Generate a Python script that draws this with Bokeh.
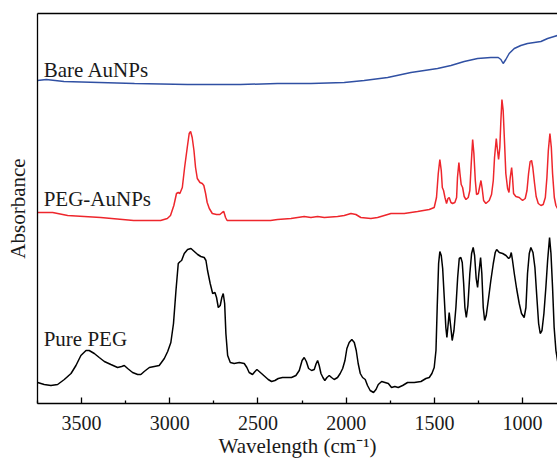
from bokeh.plotting import figure
from bokeh.models import Range1d, FixedTicker, LinearAxis, Label
from bokeh.embed import file_html
from bokeh.resources import INLINE

# ---- data (wavenumber in cm^-1, absorbance in arbitrary units, traces offset) ----
wn_pure = [3749, 3712, 3674, 3636, 3598, 3560, 3532, 3504, 3475, 3457, 3428, 3400, 3371, 3334,
           3296, 3273, 3258, 3239, 3211, 3182, 3164, 3145, 3116, 3088, 3060, 3031, 3012, 2994,
           2979, 2965, 2952, 2941, 2933, 2918, 2899, 2880, 2861, 2842, 2824, 2805, 2795, 2786,
           2771, 2757, 2744, 2735, 2725, 2714, 2705, 2697, 2689, 2682, 2672, 2657, 2635, 2606,
           2578, 2563, 2550, 2531, 2517, 2506, 2493, 2480, 2461, 2442, 2423, 2404, 2385, 2361,
           2336, 2310, 2285, 2266, 2250, 2238, 2226, 2213, 2196, 2181, 2170, 2162, 2153, 2143,
           2132, 2121, 2109, 2096, 2083, 2068, 2049, 2034, 2020, 2007, 1996, 1983, 1968, 1954,
           1943, 1932, 1920, 1907, 1892, 1879, 1864, 1845, 1831, 1818, 1799, 1780, 1761, 1743,
           1724, 1705, 1680, 1652, 1614, 1576, 1548, 1529, 1514, 1501, 1491, 1484, 1476, 1469,
           1461, 1453, 1444, 1435, 1429, 1421, 1416, 1408, 1399, 1389, 1378, 1368, 1359, 1350,
           1342, 1334, 1327, 1319, 1310, 1299, 1289, 1280, 1272, 1263, 1255, 1248, 1238, 1231,
           1223, 1215, 1206, 1193, 1180, 1166, 1155, 1147, 1132, 1113, 1094, 1079, 1072, 1064,
           1057, 1047, 1034, 1019, 1006, 991, 981, 972, 962, 953, 941, 930, 919, 909, 900, 890,
           879, 868, 858, 847, 839, 830, 821, 811, 802, 790]
abs_pure = [0.22, 0.20, 0.19, 0.20, 0.25, 0.31, 0.39, 0.49, 0.54, 0.54, 0.51, 0.47, 0.43, 0.40,
            0.37, 0.38, 0.39, 0.36, 0.32, 0.30, 0.30, 0.33, 0.37, 0.38, 0.39, 0.46, 0.53, 0.62,
            0.81, 1.14, 1.41, 1.43, 1.44, 1.51, 1.55, 1.56, 1.53, 1.50, 1.48, 1.47, 1.44, 1.34,
            1.21, 1.11, 1.12, 1.07, 0.97, 0.99, 1.07, 1.11, 1.01, 0.71, 0.49, 0.42, 0.41, 0.42,
            0.41, 0.37, 0.32, 0.30, 0.33, 0.35, 0.33, 0.31, 0.28, 0.25, 0.23, 0.24, 0.26, 0.27,
            0.27, 0.27, 0.29, 0.34, 0.44, 0.47, 0.43, 0.36, 0.34, 0.35, 0.41, 0.44, 0.39, 0.31,
            0.27, 0.24, 0.27, 0.29, 0.27, 0.25, 0.27, 0.31, 0.36, 0.44, 0.56, 0.62, 0.65, 0.62,
            0.54, 0.41, 0.31, 0.27, 0.25, 0.19, 0.14, 0.12, 0.15, 0.20, 0.23, 0.22, 0.21, 0.17,
            0.18, 0.17, 0.19, 0.22, 0.22, 0.23, 0.26, 0.27, 0.31, 0.37, 0.54, 0.97, 1.41, 1.53,
            1.49, 1.36, 1.07, 0.77, 0.67, 0.82, 0.92, 0.79, 0.64, 0.74, 0.97, 1.27, 1.46, 1.47,
            1.42, 1.21, 0.97, 0.87, 0.99, 1.31, 1.51, 1.57, 1.49, 1.26, 1.17, 1.31, 1.47, 1.31,
            0.97, 0.84, 0.89, 1.06, 1.24, 1.41, 1.52, 1.55, 1.52, 1.51, 1.49, 1.46, 1.47, 1.52,
            1.44, 1.31, 1.16, 1.01, 0.91, 0.87, 0.97, 1.31, 1.51, 1.57, 1.52, 1.37, 1.07, 0.81,
            0.71, 0.74, 0.91, 1.17, 1.44, 1.67, 1.51, 1.17, 0.77, 0.54, 0.44, 0.35]

wn_peg_au = [3750, 3664, 3579, 3392, 3205, 3052, 3014, 2996, 2977, 2962, 2952, 2943, 2929, 2916,
             2901, 2890, 2882, 2873, 2863, 2854, 2844, 2829, 2816, 2807, 2797, 2788, 2776, 2759,
             2735, 2716, 2703, 2694, 2684, 2675, 2618, 2523, 2429, 2389, 2313, 2238, 2200, 2162,
             2124, 2049, 2011, 1973, 1945, 1917, 1860, 1822, 1784, 1746, 1671, 1595, 1529, 1501,
             1488, 1478, 1469, 1461, 1455, 1448, 1440, 1431, 1423, 1416, 1406, 1397, 1384, 1374,
             1369, 1361, 1355, 1348, 1340, 1331, 1321, 1308, 1299, 1291, 1283, 1276, 1268, 1261,
             1251, 1244, 1236, 1229, 1221, 1208, 1189, 1176, 1166, 1159, 1149, 1142, 1136, 1129,
             1123, 1117, 1110, 1102, 1095, 1085, 1077, 1070, 1062, 1057, 1051, 1038, 1019, 1000,
             985, 975, 966, 957, 949, 942, 932, 923, 911, 896, 883, 871, 862, 854, 845, 837, 830,
             820, 811, 802, 790]
abs_peg_au = [1.92, 1.92, 1.89, 1.87, 1.84, 1.84, 1.86, 1.89, 1.99, 2.11, 2.12, 2.11, 2.17, 2.37,
              2.57, 2.71, 2.73, 2.67, 2.54, 2.37, 2.26, 2.22, 2.21, 2.19, 2.11, 2.02, 1.96, 1.91,
              1.90, 1.90, 1.92, 1.93, 1.87, 1.84, 1.84, 1.84, 1.84, 1.85, 1.86, 1.88, 1.87, 1.88,
              1.87, 1.88, 1.89, 1.91, 1.90, 1.87, 1.86, 1.87, 1.89, 1.91, 1.91, 1.93, 1.95, 1.97,
              2.07, 2.31, 2.45, 2.34, 2.17, 2.14, 2.07, 2.01, 2.06, 2.07, 2.02, 2.01, 2.02, 2.07,
              2.27, 2.42, 2.31, 2.20, 2.17, 2.08, 2.05, 2.07, 2.14, 2.41, 2.65, 2.51, 2.24, 2.10,
              2.11, 2.17, 2.24, 2.16, 2.04, 2.01, 2.04, 2.10, 2.24, 2.47, 2.66, 2.54, 2.45, 2.57,
              2.84, 3.05, 2.94, 2.61, 2.31, 2.16, 2.12, 2.27, 2.37, 2.27, 2.11, 2.08, 2.07, 2.04,
              2.06, 2.14, 2.31, 2.43, 2.44, 2.37, 2.21, 2.08, 2.01, 1.99, 2.00, 2.07, 2.27, 2.54,
              2.71, 2.57, 2.31, 2.07, 1.99, 1.96, 1.94]

wn_bare = [3750, 3700, 3600, 3400, 3200, 2900, 2600, 2389, 2200, 2011, 1898, 1765, 1633, 1557,
           1482, 1406, 1331, 1255, 1180, 1138, 1123, 1110, 1095, 1076, 1047, 1010, 972, 934, 896,
           858, 821, 802, 790]
abs_bare = [3.24, 3.25, 3.23, 3.22, 3.21, 3.20, 3.20, 3.21, 3.21, 3.22, 3.24, 3.27, 3.32, 3.34,
            3.36, 3.39, 3.43, 3.46, 3.47, 3.47, 3.45, 3.41, 3.45, 3.51, 3.56, 3.59, 3.61, 3.62,
            3.63, 3.66, 3.68, 3.69, 3.70]

major_ticks = [3500, 3000, 2500, 2000, 1500, 1000]
minor_ticks = [3750, 3250, 2750, 2250, 1750, 1250, 750]
series_names = ["Bare AuNPs", "PEG-AuNPs", "Pure PEG"]
x_title = "Wavelength (cm\u207b\u00b9)"
y_title = "Absorbance"

FONT = "Liberation Serif"
TXT = "#1a1a1a"

p = figure(width=557, height=461, output_backend="svg", toolbar_location=None,
           x_range=Range1d(3750, 802), y_range=Range1d(0.01, 3.91),
           min_border_left=37, min_border_right=0, min_border_top=13, min_border_bottom=58)
p.grid.visible = False
p.outline_line_color = None
p.background_fill_color = "white"
p.border_fill_color = "white"

p.line(wn_bare, abs_bare, line_color="#3050a3", line_width=1.5)
p.line(wn_peg_au, abs_peg_au, line_color="#ee262c", line_width=1.5)
p.line(wn_pure, abs_pure, line_color="black", line_width=1.5)

xa = p.xaxis[0]
xa.ticker = FixedTicker(ticks=major_ticks, minor_ticks=minor_ticks)
xa.major_tick_in = 6
xa.major_tick_out = 0
xa.minor_tick_in = 3
xa.minor_tick_out = 0
xa.major_label_standoff = 12
xa.major_label_text_font = FONT
xa.major_label_text_font_size = "20px"
xa.major_label_text_color = TXT
xa.axis_label = x_title
xa.axis_label_text_font = FONT
xa.axis_label_text_font_size = "21px"
xa.axis_label_text_font_style = "normal"
xa.axis_label_text_color = TXT
xa.axis_label_standoff = 1
xa.axis_line_width = 1.3
xa.major_tick_line_width = 1.3
xa.minor_tick_line_width = 1.3

ya = p.yaxis[0]
ya.ticker = FixedTicker(ticks=[])
ya.major_tick_in = 0
ya.major_tick_out = 0
ya.minor_tick_in = 0
ya.minor_tick_out = 0
ya.major_label_text_font_size = "0px"
ya.major_label_standoff = 0
ya.axis_label = y_title
ya.axis_label_text_font = FONT
ya.axis_label_text_font_size = "21px"
ya.axis_label_text_font_style = "normal"
ya.axis_label_text_color = TXT
ya.axis_label_standoff = 8
ya.axis_line_width = 1.3

top = LinearAxis(ticker=FixedTicker(ticks=[]), major_tick_in=0, major_tick_out=0,
                 minor_tick_in=0, minor_tick_out=0, major_label_text_font_size="0px",
                 major_label_standoff=0, axis_line_width=1.3)
p.add_layout(top, "above")

label_pos = [(3715, 3.35), (3715, 2.06), (3715, 0.66)]
for name, (lx, ly) in zip(series_names, label_pos):
    p.add_layout(Label(x=lx, y=ly, text=name, text_font=FONT, text_font_size="21px",
                       text_color=TXT, text_baseline="alphabetic", text_align="left"))

open("out.html", "w").write(file_html(p, INLINE))
